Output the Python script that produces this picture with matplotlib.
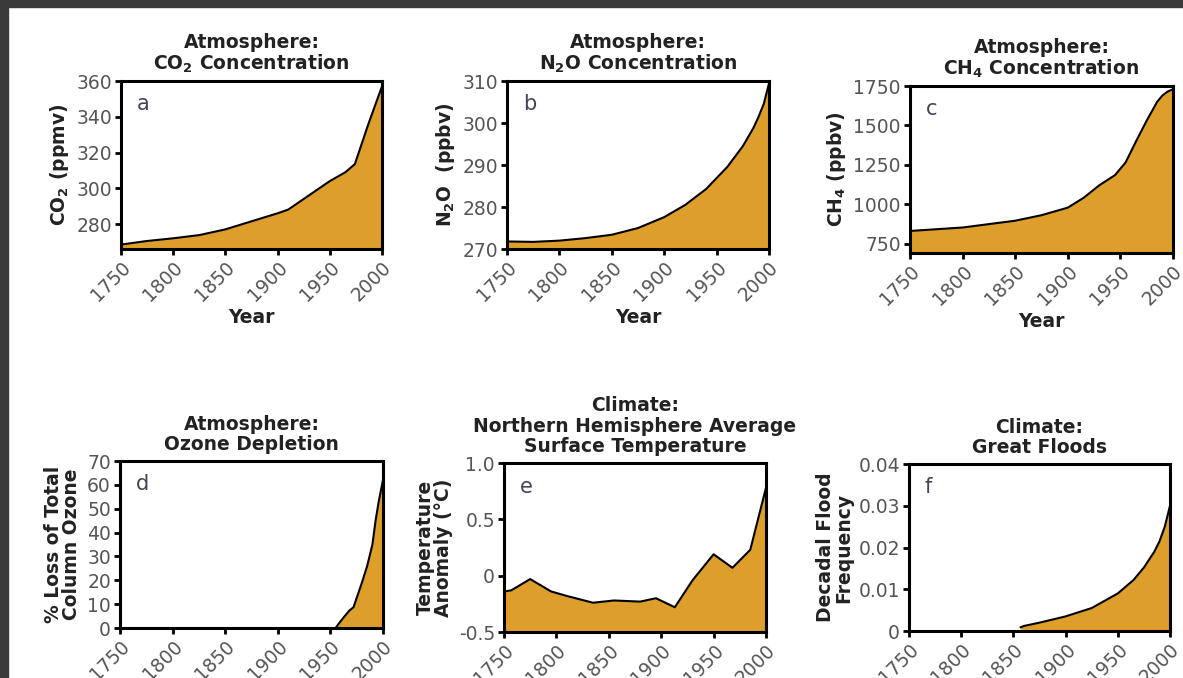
import matplotlib
matplotlib.use("Agg")
import matplotlib.pyplot as plt
from matplotlib.patches import Rectangle
from matplotlib.ticker import FuncFormatter

plt.rcParams["font.family"] = ["DejaVu Sans"]
plt.rcParams["mathtext.fontset"] = "dejavusans"

FILL = "#DE9E2B"
TICK_COLOR = "#555555"

# data
co2_years = [1750, 1775, 1800, 1825, 1850, 1875, 1900, 1910, 1930, 1950, 1965, 1974, 1987, 2000]
co2 = [268.5, 270.5, 272, 273.8, 277, 281.5, 286, 288, 296, 304, 309, 313.5, 336, 357]

n2o_years = [1750, 1775, 1800, 1825, 1850, 1875, 1900, 1920, 1940, 1960, 1975, 1985, 1990, 1995, 2000]
n2o = [271.8, 271.7, 272.0, 272.6, 273.4, 275.0, 277.6, 280.5, 284.3, 289.5, 294.5, 298.8, 301.5, 304.6, 309.5]

ch4_years = [1750, 1800, 1850, 1875, 1900, 1915, 1930, 1945, 1955, 1965, 1975, 1985, 1990, 1995, 2000]
ch4 = [830, 852, 895, 930, 978, 1040, 1120, 1185, 1265, 1400, 1530, 1650, 1690, 1715, 1730]

ozone_years = [1750, 1955, 1960, 1968, 1972, 1980, 1985, 1990, 1993, 1996, 2000]
ozone = [0, 0, 3, 7.3, 8.7, 19, 26, 35, 45, 53, 62]

temp_years = [1750, 1757, 1775, 1795, 1810, 1835, 1855, 1880, 1895, 1913, 1930, 1950, 1968, 1985, 2000]
temp = [-0.14, -0.13, -0.03, -0.14, -0.18, -0.24, -0.22, -0.23, -0.20, -0.28, -0.04, 0.19, 0.07, 0.23, 0.78]

flood_years = [1857, 1860, 1875, 1900, 1925, 1950, 1965, 1975, 1985, 1990, 1995, 2000]
flood = [0.0009, 0.0012, 0.0020, 0.0035, 0.0055, 0.0090, 0.0122, 0.0152, 0.0190, 0.0215, 0.0250, 0.0300]

year_ticks = [1750, 1800, 1850, 1900, 1950, 2000]

fig = plt.figure(figsize=(11.83, 6.78), dpi=100)

# dark frame around the screenshot
fig.patches.append(Rectangle((0, 1 - 7 / 678), 1, 7 / 678, transform=fig.transFigure,
                             color="#3a3a3a", zorder=10))
fig.patches.append(Rectangle((0, 0), 8 / 1183, 1, transform=fig.transFigure,
                             color="#3a3a3a", zorder=10))


def panel(rect, years, values, ylim, yticks, title, ylabel, letter, xlabel=True, fmt=None):
    ax = fig.add_axes(rect)
    ax.fill_between(years, values, ylim[0], color=FILL, linewidth=0)
    ax.plot(years, values, color="black", linewidth=1.5)
    ax.set_xlim(1750, 2000)
    ax.set_ylim(*ylim)
    ax.set_xticks(year_ticks)
    ax.set_yticks(yticks)
    if fmt is not None:
        ax.yaxis.set_major_formatter(FuncFormatter(fmt))
    ax.set_xticklabels([str(y) for y in year_ticks], rotation=45, ha="right",
                       rotation_mode="anchor")
    ax.tick_params(direction="out", length=4.5, width=2, colors="black",
                   labelcolor=TICK_COLOR, labelsize=13.5, pad=2)
    for s in ax.spines.values():
        s.set_linewidth(2.2)
    ax.set_title(title, fontsize=13.5, fontweight="bold", color="#222222", pad=8,
                 linespacing=1.08)
    ax.set_ylabel(ylabel, fontsize=13.5, fontweight="bold", color="#222222",
                  labelpad=4, linespacing=0.95)
    if xlabel:
        ax.set_xlabel("Year", fontsize=13.5, fontweight="bold", color="#222222", labelpad=2)
    ax.text(0.06, 0.92, letter, transform=ax.transAxes, fontsize=15, color="#444455",
            va="top", ha="left")
    return ax


panel([0.1023, 0.6327, 0.2206, 0.2478], co2_years, co2, (266, 360),
      [280, 300, 320, 340, 360],
      "Atmosphere:\nCO$_\\mathbf{2}$ Concentration", "CO$_\\mathbf{2}$ (ppmv)", "a")

panel([0.4286, 0.6327, 0.2215, 0.2478], n2o_years, n2o, (270, 310),
      [270, 280, 290, 300, 310],
      "Atmosphere:\nN$_\\mathbf{2}$O Concentration", "N$_\\mathbf{2}$O  (ppbv)", "b")

panel([0.7692, 0.6268, 0.2223, 0.2463], ch4_years, ch4, (690, 1750),
      [750, 1000, 1250, 1500, 1750],
      "Atmosphere:\nCH$_\\mathbf{4}$ Concentration", "CH$_\\mathbf{4}$ (ppbv)", "c")

panel([0.1014, 0.0737, 0.2223, 0.2463], ozone_years, ozone, (0, 70),
      [0, 10, 20, 30, 40, 50, 60, 70],
      "Atmosphere:\nOzone Depletion", "% Loss of Total\nColumn Ozone", "d", xlabel=False)

panel([0.4260, 0.0678, 0.2215, 0.2493], temp_years, temp, (-0.5, 1.0),
      [-0.5, 0, 0.5, 1.0],
      "Climate:\nNorthern Hemisphere Average\nSurface Temperature",
      "Temperature\nAnomaly (°C)", "e", xlabel=False,
      fmt=lambda v, p: "0" if v == 0 else f"{v:.1f}")

panel([0.7684, 0.0693, 0.2206, 0.2463], flood_years, flood, (0, 0.04),
      [0, 0.01, 0.02, 0.03, 0.04],
      "Climate:\nGreat Floods", "Decadal Flood\nFrequency", "f", xlabel=False,
      fmt=lambda v, p: "0" if v == 0 else f"{v:.2f}")

plt.savefig("out.png", dpi=100)
plt.close()
